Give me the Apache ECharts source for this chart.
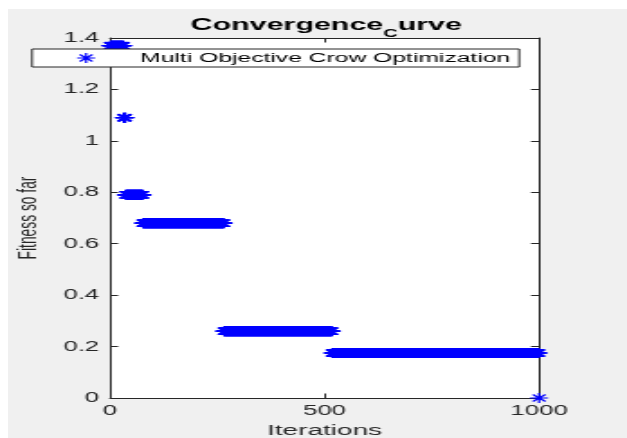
<!DOCTYPE html>
<html>
<head>
<meta charset="utf-8">
<script src="https://cdn.jsdelivr.net/npm/echarts@6/dist/echarts.min.js"></script>
<style>
  html, body { margin: 0; padding: 0; background: #fff; overflow: hidden; }
  #figure { position: absolute; left: 8px; top: 9px; width: 619px; height: 429px; background: #f0f0f0; }
  /* the reference is a figure stretched sideways, so draw narrow and stretch */
  #chart { position: absolute; left: 0; top: 0; width: 348px; height: 438px; transform: scaleX(1.8017); transform-origin: 0 0; }
</style>
</head>
<body>
<div id="figure"></div>
<div id="chart"></div>
<script>
// step levels of the convergence curve (value held from first to last iteration)
const levelValues = [1.37, 1.09, 0.79, 0.68, 0.26, 0.175, 0]
const levelFirstIter = [1, 32, 37, 77, 266, 518, 1000]
const levelLastIter = [31, 36, 76, 265, 517, 999, 1000]

const xTicks = [0, 500, 1000]
const yTicks = [0, 0.2, 0.4, 0.6, 0.8, 1, 1.2, 1.4]

const seriesName = 'Multi Objective Crow Optimization'
const axisColor = '#262626'
const blue = '#0000ff'
// MATLAB '*' marker as filled spokes
const star = 'path://M0,4.4L10,4.4L10,5.6L0,5.6Z M4.4,0L5.6,0L5.6,10L4.4,10Z M1.92,1.08L8.92,8.08L8.08,8.92L1.08,1.92Z M8.08,1.08L8.92,1.92L1.92,8.92L1.08,8.08Z'

const points = []
levelValues.forEach((v, i) => {
  for (let it = levelFirstIter[i]; it <= levelLastIter[i]; it++) {
    points.push([it, v])
  }
})

const font = 'Liberation Sans'

const boxAxis = {
  axisLine: { show: true, onZero: false, lineStyle: { color: axisColor, width: 1 } },
  axisTick: { show: true, inside: true, length: 4.5, lineStyle: { color: axisColor } },
  splitLine: { show: false }
}

const option = {
  backgroundColor: 'transparent',
  animation: false,
  title: {
    text: '{a|Convergence}{s|C}{a|urve}',
    left: 176,
    top: 12,
    textAlign: 'center',
    textStyle: {
      rich: {
        a: { fontFamily: font, fontWeight: 'bold', fontSize: 16.9, lineHeight: 18, color: '#000', verticalAlign: 'top' },
        s: { fontFamily: font, fontWeight: 'bold', fontSize: 11, lineHeight: 11, color: '#000', verticalAlign: 'top', padding: [11, 0, 0, 0] }
      }
    }
  },
  legend: {
    left: 17.8,
    top: 49,
    padding: [2, 5, 2, 25],
    itemWidth: 10,
    itemHeight: 10,
    backgroundColor: '#fff',
    borderColor: axisColor,
    borderWidth: 1,
    borderRadius: 0,
    itemStyle: { color: blue },
    formatter: name => '{t|' + name + '}',
    textStyle: {
      fontFamily: font,
      fontSize: 13.7,
      color: '#000',
      rich: { t: { fontFamily: font, fontSize: 13.7, color: '#000', padding: [0, 0, 0, 20] } }
    },
    data: [seriesName]
  },
  grid: {
    left: 61.05,
    right: 48.8,
    top: 38,
    bottom: 40,
    show: true,
    backgroundColor: '#fff',
    borderWidth: 0,
    containLabel: false,
    outerBoundsMode: 'none'
  },
  xAxis: [{
    type: 'value',
    position: 'bottom',
    min: xTicks[0],
    max: xTicks[xTicks.length - 1],
    interval: 500,
    ...boxAxis,
    axisLabel: { margin: 6, fontFamily: font, fontSize: 14.3, color: axisColor, formatter: v => String(v) },
    name: 'Iterations',
    nameLocation: 'middle',
    nameGap: 22,
    nameTextStyle: { fontFamily: font, fontSize: 15.5, color: axisColor }
  }, {
    type: 'value',
    position: 'top',
    min: xTicks[0],
    max: xTicks[xTicks.length - 1],
    interval: 500,
    ...boxAxis,
    axisLabel: { show: false }
  }],
  yAxis: [{
    type: 'value',
    position: 'left',
    min: yTicks[0],
    max: yTicks[yTicks.length - 1],
    interval: 0.2,
    ...boxAxis,
    axisLabel: { margin: 6, fontFamily: font, fontSize: 14.3, color: axisColor },
    name: 'Fitness so far',
    nameLocation: 'middle',
    nameGap: 38,
    nameTextStyle: { fontFamily: font, fontSize: 13.8, color: axisColor }
  }, {
    type: 'value',
    position: 'right',
    min: yTicks[0],
    max: yTicks[yTicks.length - 1],
    interval: 0.2,
    ...boxAxis,
    axisLabel: { show: false }
  }],
  series: [{
    name: seriesName,
    type: 'scatter',
    xAxisIndex: 0,
    yAxisIndex: 0,
    symbol: star,
    symbolSize: 10,
    symbolKeepAspect: true,
    clip: false,
    progressive: 0,
    itemStyle: { color: blue, opacity: 1 },
    emphasis: { disabled: true },
    data: points
  }]
}

const chart = echarts.init(document.getElementById('chart'), null, { renderer: 'canvas' })
chart.setOption(option)
</script>
</body>
</html>
